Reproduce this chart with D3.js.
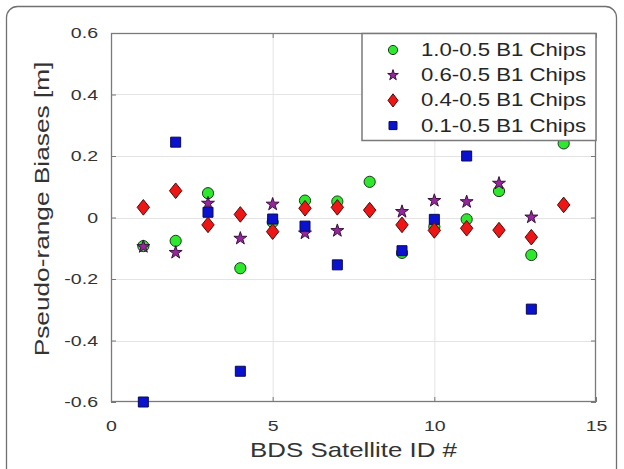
<!DOCTYPE html>
<html><head><meta charset="utf-8">
<script src="https://cdn.jsdelivr.net/npm/d3@7"></script>
<style>
body{margin:0;background:#fff}
svg{display:block}
text{font-family:"Liberation Sans",Arial,Helvetica,sans-serif;fill:#333}
</style>
</head><body>
<svg id="chart" width="624" height="469"></svg>
<script>
// ---- data ---- (null = point not visible in the reference)
const satelliteIds = [1, 2, 3, 4, 5, 6, 7, 8, 9, 10, 11, 12, 13, 14];
const chips10_05 = [-0.093, -0.076, 0.079, -0.165, -0.015, 0.055, 0.052, 0.116, -0.115, -0.030, -0.006, 0.086, -0.122, 0.241];
const chips06_05 = [-0.095, -0.114, 0.046, -0.068, 0.043, -0.051, -0.043, null, 0.019, 0.055, 0.051, 0.111, 0.001, null];
const chips04_05 = [0.033, 0.087, -0.024, 0.010, -0.046, 0.030, 0.033, 0.024, -0.024, -0.042, -0.035, -0.041, -0.064, 0.041];
const chips01_05 = [-0.600, 0.245, 0.017, -0.500, -0.005, -0.028, -0.154, null, -0.108, -0.006, 0.200, null, -0.298, null];
const seriesNames = ["1.0-0.5 B1 Chips", "0.6-0.5 B1 Chips", "0.4-0.5 B1 Chips", "0.1-0.5 B1 Chips"];
const xTicks = [0, 5, 10, 15];
const xTickLabels = ["0", "5", "10", "15"];
const yTicks = [-0.6, -0.4, -0.2, 0, 0.2, 0.4, 0.6];
const yTickLabels = ["-0.6", "-0.4", "-0.2", "0", "0.2", "0.4", "0.6"];
const xTitle = "BDS Satellite ID #";
const yTitle = "Pseudo-range Biases [m]";

// ---- layout ----
const svg = d3.select("#chart");
const L = 111, R = 596, T = 33, B = 402;
const x = d3.scaleLinear().domain([0, 15]).range([L, R]);
const y = d3.scaleLinear().domain([-0.6, 0.6]).range([B, T]);
const K = 1.26; // horizontal text widening to match reference glyph widths

function widen(sel, k) {
  sel.each(function () {
    const w = this.getComputedTextLength();
    this.setAttribute("textLength", w * k);
    this.setAttribute("lengthAdjust", "spacingAndGlyphs");
  });
}

// outer frame
svg.append("rect").attr("x", 6.5).attr("y", 6.5).attr("width", 610).attr("height", 490)
  .attr("rx", 11).attr("fill", "#fff").attr("stroke", "#707070").attr("stroke-width", 1.3);

// plot background
svg.append("rect").attr("x", L).attr("y", T).attr("width", R - L).attr("height", B - T).attr("fill", "#fff");

// grid
const grid = svg.append("g").attr("stroke", "#e4e4e4").attr("stroke-width", 1);
grid.selectAll("line.gx").data(xTicks.slice(1, -1)).join("line")
  .attr("x1", d => x(d) + 0.5).attr("x2", d => x(d) + 0.5).attr("y1", T).attr("y2", B);
grid.selectAll("line.gy").data(yTicks.slice(1, -1)).join("line")
  .attr("y1", d => Math.round(y(d)) + 0.5).attr("y2", d => Math.round(y(d)) + 0.5).attr("x1", L).attr("x2", R);

// axes
const tickFont = 15.5;
const axB = svg.append("g").attr("transform", `translate(0,${B})`)
  .call(d3.axisBottom(x).tickValues(xTicks).tickFormat((d, i) => xTickLabels[i]).tickSizeInner(-5).tickSizeOuter(0).tickPadding(18));
const axL = svg.append("g").attr("transform", `translate(${L},0)`)
  .call(d3.axisLeft(y).tickValues(yTicks).tickFormat((d, i) => yTickLabels[i]).tickSizeInner(-5).tickSizeOuter(0).tickPadding(13));
const axT = svg.append("g").attr("transform", `translate(0,${T})`)
  .call(d3.axisTop(x).tickValues(xTicks).tickFormat("").tickSizeInner(-5).tickSizeOuter(0));
const axR = svg.append("g").attr("transform", `translate(${R},0)`)
  .call(d3.axisRight(y).tickValues(yTicks).tickFormat("").tickSizeInner(-5).tickSizeOuter(0));
[axB, axL, axT, axR].forEach(a => {
  a.select(".domain").remove();
  a.selectAll(".tick line").attr("stroke", "#777");
  a.selectAll("text").attr("font-size", tickFont).attr("font-family", null).style("fill", "#333");
});
widen(axB.selectAll("text"), K);
widen(axL.selectAll("text"), K);

// box
svg.append("rect").attr("x", L + 0.5).attr("y", T + 0.5).attr("width", R - L - 1).attr("height", B - T - 1)
  .attr("fill", "none").attr("stroke", "#7a7a7a").attr("stroke-width", 1.3);

// titles
const xt = svg.append("text").attr("x", (L + R) / 2).attr("y", 456.5).attr("text-anchor", "middle")
  .attr("font-size", 21).text(xTitle);
widen(xt, 1.23);
const yt = svg.append("text").attr("transform", "translate(48.5,209) rotate(-90)").attr("text-anchor", "middle")
  .attr("font-size", 21).text(yTitle);
widen(yt, 1.25);

// marker shapes
const diamondSym = (hw, hh) => ({
  draw(ctx) { ctx.moveTo(0, -hh); ctx.lineTo(hw, 0); ctx.lineTo(0, hh); ctx.lineTo(-hw, 0); ctx.closePath(); }
});
const series = [
  { name: seriesNames[0], values: chips10_05, sym: d3.symbolCircle, size: Math.PI * 5.6 * 5.6, lsize: Math.PI * 4.6 * 4.6, fill: "#2de82d", stroke: "#1a3a1a" },
  { name: seriesNames[1], values: chips06_05, sym: d3.symbolStar, size: 6.8 * 6.8 / 0.8908, lsize: 5.6 * 5.6 / 0.8908, fill: "#93279b", stroke: "#3a103d" },
  { name: seriesNames[2], values: chips04_05, sym: diamondSym(6.2, 7.8), lsym: diamondSym(5, 6.6), fill: "#ee1515", stroke: "#4a0d0d" },
  { name: seriesNames[3], values: chips01_05, sym: d3.symbolSquare, size: 10 * 10, lsize: 8 * 8, fill: "#0a12d0", stroke: "#0a0a55" }
];
const drawOrder = [0, 1, 3, 2];
const marks = svg.append("g");
drawOrder.forEach(si => {
  const s = series[si];
  const gen = d3.symbol().type(s.sym).size(s.size || 1);
  const pts = satelliteIds.map((id, i) => [id, s.values[i]]).filter(d => d[1] !== null);
  marks.append("g").selectAll("path").data(pts).join("path")
    .attr("transform", d => `translate(${x(d[0])},${y(d[1])})`)
    .attr("d", gen())
    .attr("fill", s.fill).attr("stroke", s.stroke).attr("stroke-width", 1);
});

// legend
const lg = svg.append("g");
lg.append("rect").attr("x", 362).attr("y", 33.5).attr("width", 234).attr("height", 107)
  .attr("fill", "#fff").attr("stroke", "#7a7a7a").attr("stroke-width", 1.5);
series.forEach((s, i) => {
  const by = 56 + i * 25.2;
  const gen = d3.symbol().type(s.lsym || s.sym).size(s.lsize || 1);
  lg.append("path").attr("transform", `translate(393,${by - 6})`).attr("d", gen())
    .attr("fill", s.fill).attr("stroke", s.stroke).attr("stroke-width", 1);
  const t = lg.append("text").attr("x", 421).attr("y", by).attr("font-size", 17.6).style("fill", "#262626").text(s.name);
  widen(t, K);
});
</script>
</body></html>
